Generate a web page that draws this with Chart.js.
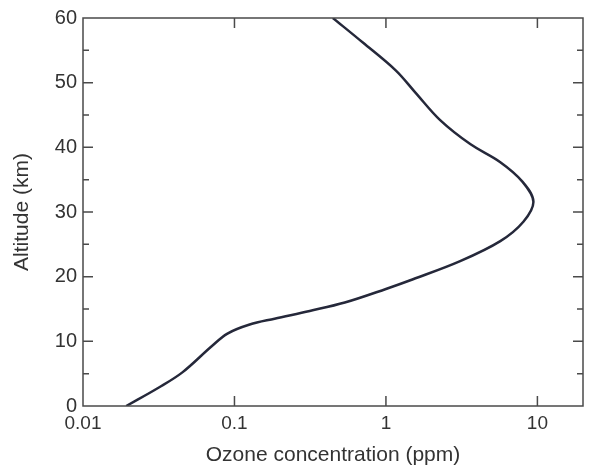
<!DOCTYPE html>
<html>
<head>
<meta charset="utf-8">
<script src="https://cdn.jsdelivr.net/npm/chart.js@4"></script>
<style>
  html, body { margin: 0; padding: 0; background: #fff; }
  #wrap { width: 590px; height: 468px; }
</style>
</head>
<body>
<div id="wrap"><canvas id="myChart" width="590" height="468"></canvas></div>
<script>
// altitude (km) and ozone concentration (ppm)
const altitude = [0, 2.9, 5.2, 9.2, 11.2, 12.6, 13.5, 14.7, 16.0, 18.1, 19.6, 22.4, 25.5, 28.5, 31.6, 34.7, 37.7, 40.5, 44.2, 48.5, 51.9, 56.2, 60];
const ozone = [0.0193, 0.0319, 0.0453, 0.0704, 0.0899, 0.126, 0.184, 0.314, 0.535, 1.0, 1.51, 3.09, 5.69, 8.08, 9.41, 7.96, 5.69, 3.60, 2.28, 1.56, 1.16, 0.704, 0.446];
const xTicks = [0.01, 0.1, 1, 10];
const yTicks = [0, 10, 20, 30, 40, 50, 60];

const points = altitude.map((a, i) => ({ x: ozone[i], y: a }));
const frameColor = '#4a4a4a';
const textColor = '#333';
const font = 'Liberation Sans, Arial, sans-serif';

// frame with inward ticks on all four sides
const framePlugin = {
    id: 'frame',
    afterDraw(chart) {
        const c = chart.ctx;
        const a = chart.chartArea;
        const xs = chart.scales.x, ys = chart.scales.y;
        c.save();
        c.strokeStyle = frameColor;
        c.lineWidth = 1.5;
        c.strokeRect(a.left, a.top, a.right - a.left, a.bottom - a.top);
        c.beginPath();
        for (let v = 5; v < 60; v += 5) {
            const py = ys.getPixelForValue(v);
            const len = v % 10 === 0 ? 10 : 6;
            c.moveTo(a.left, py); c.lineTo(a.left + len, py);
            c.moveTo(a.right, py); c.lineTo(a.right - len, py);
        }
        xTicks.slice(1).forEach(v => {
            const px = xs.getPixelForValue(v);
            c.moveTo(px, a.bottom); c.lineTo(px, a.bottom - 10);
            c.moveTo(px, a.top); c.lineTo(px, a.top + 10);
        });
        c.stroke();
        c.restore();
    }
};

const ctx = document.getElementById('myChart').getContext('2d');
const myChart = new Chart(ctx, {
    type: 'scatter',
    data: {
        datasets: [{
            data: points,
            showLine: true,
            borderColor: '#25283a',
            borderWidth: 2.5,
            pointRadius: 0,
            tension: 0.35,
            fill: false
        }]
    },
    options: {
        responsive: false,
        animation: false,
        layout: { padding: { top: 15, right: 7, left: 0, bottom: 0 } },
        plugins: { legend: { display: false }, tooltip: { enabled: false } },
        scales: {
            x: {
                type: 'logarithmic',
                min: 0.01,
                max: 20,
                afterBuildTicks: s => { s.ticks = xTicks.map(v => ({ value: v })); },
                afterFit: s => { s.height = 62; },
                grid: { display: false, drawTicks: false },
                border: { display: false },
                ticks: {
                    color: textColor,
                    padding: 6,
                    maxRotation: 0,
                    autoSkip: false,
                    font: { family: font, size: 19 },
                    callback: v => String(v)
                },
                title: {
                    display: true,
                    text: 'Ozone concentration (ppm)',
                    color: textColor,
                    padding: { top: 4, bottom: 0 },
                    font: { family: font, size: 21 }
                }
            },
            y: {
                min: 0,
                max: 60,
                afterBuildTicks: s => { s.ticks = yTicks.map(v => ({ value: v })); },
                afterFit: s => { s.width = 83; },
                grid: { display: false, drawTicks: false },
                border: { display: false },
                ticks: {
                    color: textColor,
                    padding: 6,
                    font: { family: font, size: 20 }
                },
                title: {
                    display: true,
                    text: 'Altitude (km)',
                    color: textColor,
                    padding: { top: 10, bottom: 4 },
                    font: { family: font, size: 21 }
                }
            }
        }
    },
    plugins: [framePlugin]
});
</script>
</body>
</html>
